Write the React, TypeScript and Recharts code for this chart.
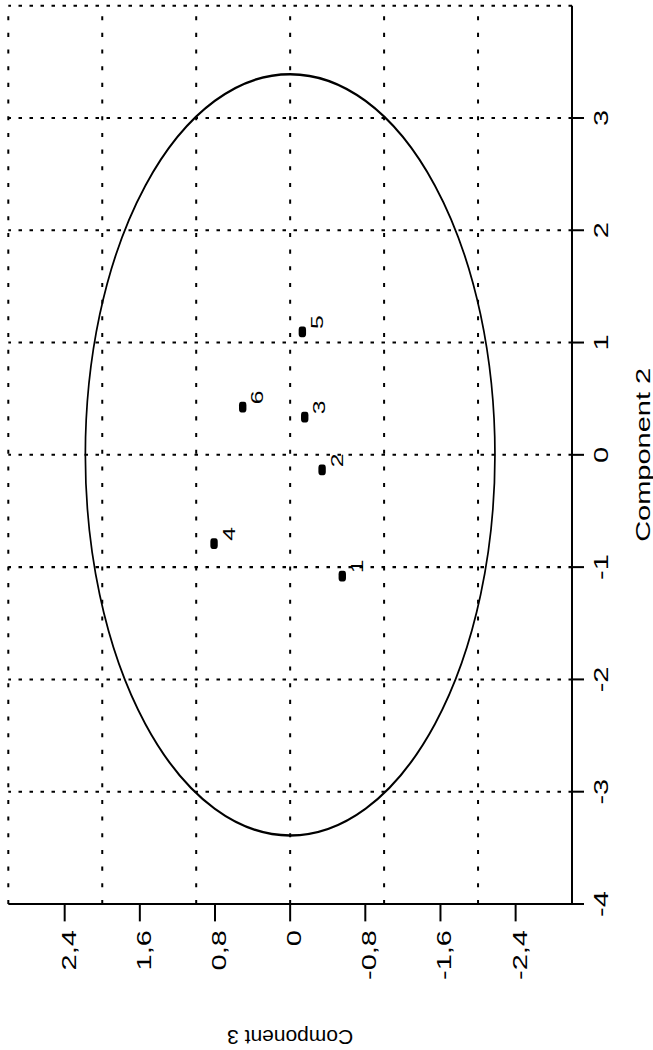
import React from 'react';
import {
  ScatterChart,
  Scatter,
  XAxis,
  YAxis,
  ReferenceLine,
  ReferenceArea,
} from 'recharts';

// scores of the six samples
const SAMPLE_IDS = ['1', '2', '3', '4', '5', '6'];
const COMPONENT_2 = [-1.08, -0.135, 0.335, -0.79, 1.095, 0.425];
const COMPONENT_3 = [-0.555, -0.34, -0.155, 0.81, -0.13, 0.505];

const X_TICKS = [-4, -3, -2, -1, 0, 1, 2, 3];
const Y_TICKS = [-2.4, -1.6, -0.8, 0, 0.8, 1.6, 2.4];
const X_GRID = [-3, -2, -1, 0, 1, 2, 3, 4];
const Y_GRID = [-2, -1, 0, 1, 2, 3];

// confidence ellipse half-widths along component 2 / component 3
const ELLIPSE_RX = 3.39;
const ELLIPSE_RY = 2.18;

const points = SAMPLE_IDS.map((id, i) => ({ id, x: COMPONENT_2[i], y: COMPONENT_3[i] }));

// the plot is turned on its side and stretched along the page height
const STRETCH = 1.45;
const PAGE_W = 653;
const PAGE_H = 1050;
const CHART_W = PAGE_H / STRETCH;
const CHART_H = PAGE_W;
const MARGIN = { top: 8.3, right: 3.9, bottom: 0, left: 0 };
const Y_AXIS_W = 100.7;
const X_AXIS_H = 81;
const PLOT_W = CHART_W - MARGIN.left - MARGIN.right - Y_AXIS_W;
const PLOT_H = CHART_H - MARGIN.top - MARGIN.bottom - X_AXIS_H;
const FONT = '"Liberation Sans", Arial, Helvetica, sans-serif';

const fmtY = (v: number) => (v === 0 ? '0' : v.toFixed(1).replace('.', ','));

const XTick = ({ x, y, payload }: any) => (
  <text x={x} y={y + 24} textAnchor="middle" fontSize={20} fontFamily={FONT} fill="#000">
    {payload.value}
  </text>
);

const YTick = ({ x, y, payload }: any) => (
  <text x={x - 6} y={y + 11} textAnchor="end" fontSize={20} fontFamily={FONT} fill="#000">
    {fmtY(payload.value)}
  </text>
);

const XTitle = () => (
  <text
    x={MARGIN.left + Y_AXIS_W + PLOT_W / 2}
    y={MARGIN.top + PLOT_H + 78}
    textAnchor="middle"
    fontSize={20}
    fontFamily={FONT}
    fill="#000"
  >
    Component 2
  </text>
);

// drawn against the stretch so the title keeps its natural proportions
const YTitle = () => (
  <text
    transform={`translate(13.8, ${MARGIN.top + PLOT_H / 2}) scale(${1 / STRETCH}, 1) rotate(-90)`}
    x={0}
    y={0}
    textAnchor="middle"
    fontSize={21}
    fontFamily={FONT}
    fill="#000"
  >
    Component 3
  </text>
);

const EllipseShape = (props: any) => {
  const { x, y, width, height } = props;
  return (
    <ellipse
      cx={x + width / 2}
      cy={y + height / 2}
      rx={Math.abs(width) / 2}
      ry={Math.abs(height) / 2}
      fill="none"
      stroke="#000"
      strokeWidth={1.7}
    />
  );
};

const PointMark = (props: any) => {
  const { cx, cy, payload } = props;
  return (
    <g>
      <rect x={cx - 3.7} y={cy - 3.7} width={7.4} height={7.4} rx={2.4} fill="#000" />
      <text x={cx + 6.7} y={cy + 20.5} textAnchor="middle" fontSize={17} fontFamily={FONT} fill="#000">
        {payload.id}
      </text>
    </g>
  );
};

export default function App() {
  return (
    <div
      style={{
        position: 'absolute',
        left: 0,
        top: 0,
        width: PAGE_W,
        height: PAGE_H,
        overflow: 'hidden',
        background: '#fff',
      }}
    >
      <div
        style={{
          position: 'absolute',
          left: 0,
          top: 0,
          width: CHART_W,
          height: CHART_H,
          transformOrigin: '0 0',
          transform: `translate(0px, ${PAGE_H}px) scale(1, ${STRETCH}) rotate(-90deg)`,
        }}
      >
        <ScatterChart width={CHART_W} height={CHART_H} margin={MARGIN}>
          <XAxis
            type="number"
            dataKey="x"
            domain={[-4, 4]}
            ticks={X_TICKS}
            interval={0}
            allowDataOverflow
            height={X_AXIS_H}
            tickSize={12}
            tickMargin={0}
            tick={XTick}
            axisLine={{ stroke: '#000', strokeWidth: 2 }}
            tickLine={{ stroke: '#000', strokeWidth: 1.4 }}
            label={{ content: XTitle }}
          />
          <YAxis
            type="number"
            dataKey="y"
            domain={[-3, 3]}
            ticks={Y_TICKS}
            interval={0}
            allowDataOverflow
            width={Y_AXIS_W}
            tickSize={12}
            tickMargin={0}
            tick={YTick}
            axisLine={{ stroke: '#000', strokeWidth: 1.4 }}
            tickLine={{ stroke: '#000', strokeWidth: 2 }}
            label={{ content: YTitle }}
          />
          {X_GRID.map((v) => (
            <ReferenceLine
              key={`gx${v}`}
              x={v}
              stroke="#000"
              strokeWidth={1.4}
              strokeDasharray="3.5 7.5"
              ifOverflow="visible"
            />
          ))}
          {Y_GRID.map((v) => (
            <ReferenceLine
              key={`gy${v}`}
              y={v}
              stroke="#000"
              strokeWidth={2}
              strokeDasharray="2.8 8.7"
              ifOverflow="visible"
            />
          ))}
          <ReferenceArea
            x1={-ELLIPSE_RX}
            x2={ELLIPSE_RX}
            y1={-ELLIPSE_RY}
            y2={ELLIPSE_RY}
            shape={EllipseShape}
          />
          <Scatter data={points} shape={PointMark} isAnimationActive={false} />
        </ScatterChart>
      </div>
    </div>
  );
}
